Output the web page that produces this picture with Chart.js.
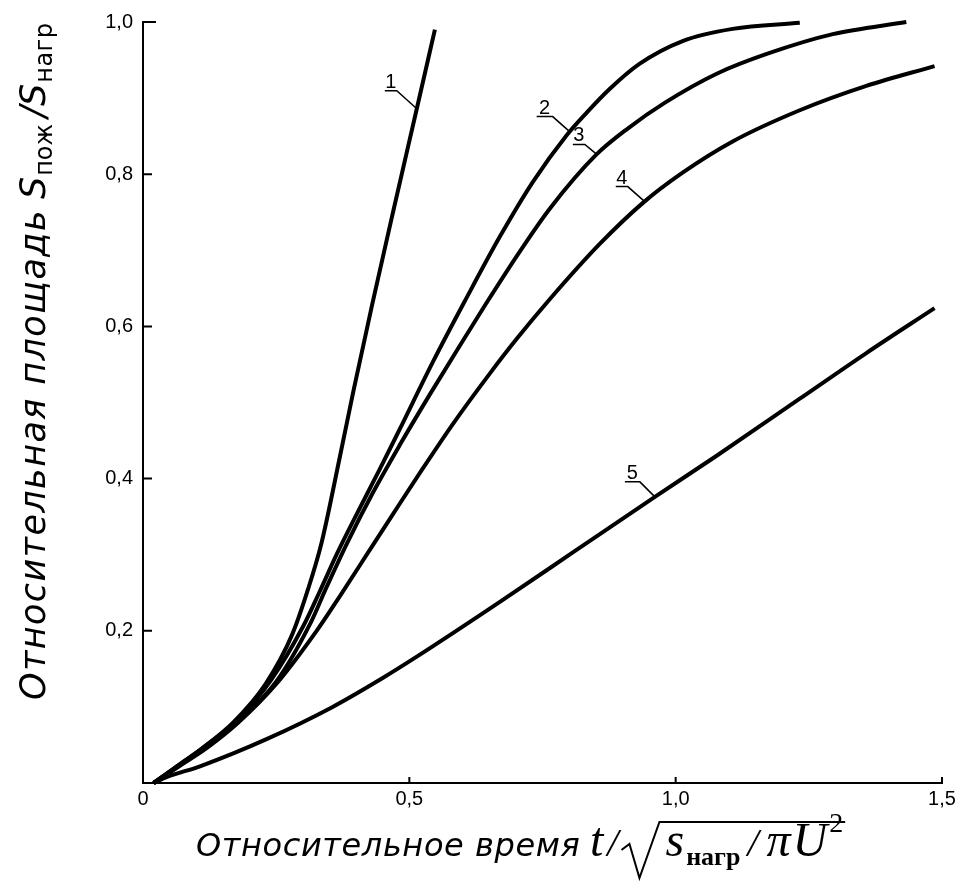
<!DOCTYPE html>
<html>
<head>
<meta charset="utf-8">
<script src="https://cdn.jsdelivr.net/npm/chart.js@4.4.0/dist/chart.umd.min.js"></script>
<style>
  html, body { margin: 0; padding: 0; background: #fff; }
  #wrap { width: 968px; height: 890px; }
</style>
</head>
<body>
<div id="wrap"><canvas id="chart" width="968" height="890"></canvas></div>
<script>
// axis ticks
const xTicks = [0, 0.5, 1.0, 1.5];
const yTicks = [0, 0.2, 0.4, 0.6, 0.8, 1.0];

// curves, [x, y]
const curve1 = [[0.02,0],[0.06,0.02],[0.11,0.045],[0.17,0.08],[0.23,0.13],[0.28,0.195],[0.31,0.255],
  [0.335,0.315],[0.37,0.43],[0.395,0.515],[0.43,0.628],[0.47,0.752],[0.514,0.886],[0.548,0.99]];
const curve2 = [[0.02,0],[0.07,0.025],[0.12,0.05],[0.18,0.085],[0.24,0.135],[0.30,0.205],[0.332,0.252],
  [0.364,0.301],[0.401,0.353],[0.445,0.413],[0.482,0.465],[0.544,0.553],[0.604,0.633],[0.67,0.718],
  [0.732,0.79],[0.795,0.851],[0.833,0.881],[0.876,0.912],[0.932,0.945],[1.013,0.975],[1.107,0.991],[1.233,0.999]];
const curve3 = [[0.02,0],[0.07,0.024],[0.12,0.048],[0.18,0.082],[0.25,0.133],[0.313,0.208],[0.345,0.258],
  [0.383,0.315],[0.432,0.382],[0.482,0.444],[0.538,0.51],[0.595,0.575],[0.645,0.631],[0.707,0.698],
  [0.764,0.755],[0.85,0.825],[0.91,0.86],[0.98,0.894],[1.077,0.932],[1.171,0.958],[1.295,0.984],[1.433,1.0]];
const curve4 = [[0.02,0],[0.07,0.023],[0.12,0.046],[0.18,0.08],[0.25,0.13],[0.326,0.2],[0.37,0.246],
  [0.42,0.3],[0.469,0.353],[0.525,0.413],[0.582,0.472],[0.651,0.538],[0.702,0.584],[0.764,0.636],
  [0.857,0.708],[0.938,0.762],[1.013,0.802],[1.107,0.843],[1.233,0.884],[1.358,0.916],[1.486,0.942]];
const curve5 = [[0.02,0],[0.045,0.008],[0.107,0.022],[0.233,0.058],[0.356,0.1],[0.45,0.138],[0.514,0.166],
  [0.67,0.238],[0.807,0.303],[0.961,0.376],[1.077,0.43],[1.233,0.505],[1.358,0.565],[1.486,0.624]];

// curve numbers and where their leader lines touch the curve
const curveNames = ['1', '2', '3', '4', '5'];
const labelPoints = [[0.514,0.886],[0.801,0.856],[0.852,0.826],[0.942,0.764],[0.961,0.376]];

const sans = '"Liberation Sans", Arial, sans-serif';
const wide = '"DejaVu Sans", Verdana, sans-serif';
const serif = '"Liberation Serif", "Times New Roman", serif';

function toPoints(arr) {
  return arr.map(p => ({ x: p[0], y: p[1] }));
}

function commaNum(v) {
  return v === 0 ? '0' : v.toFixed(1).replace('.', ',');
}

const decorations = {
  id: 'decorations',
  afterDraw(chart) {
    const ctx = chart.ctx;
    const xs = chart.scales.x, ys = chart.scales.y;
    const left = chart.chartArea.left, bottom = chart.chartArea.bottom;
    ctx.save();
    ctx.strokeStyle = '#000';
    ctx.fillStyle = '#000';

    // ticks point into the plot
    ctx.lineWidth = 2;
    ctx.beginPath();
    yTicks.forEach(v => {
      if (v === 0) return;
      const py = ys.getPixelForValue(v);
      ctx.moveTo(left, py);
      ctx.lineTo(left + (v === 1 ? 13 : 9), py);
    });
    xTicks.forEach(v => {
      if (v === 0) return;
      const px = xs.getPixelForValue(v);
      ctx.moveTo(px, bottom);
      ctx.lineTo(px, bottom - 6);
    });
    ctx.stroke();

    // curve numbers with leaders (leader offset dx, dy, underline length)
    const leader = [[-20, -18, 12], [-17, -15, 16], [-12, -10, 12], [-17, -15, 12], [-15, -15, 15]];
    ctx.lineWidth = 1.5;
    ctx.font = '20px ' + sans;
    ctx.textAlign = 'center';
    ctx.textBaseline = 'alphabetic';
    curveNames.forEach((name, i) => {
      const px = xs.getPixelForValue(labelPoints[i][0]);
      const py = ys.getPixelForValue(labelPoints[i][1]);
      const [dx, dy, len] = leader[i];
      const ux = px + dx, uy = py + dy;
      ctx.beginPath();
      ctx.moveTo(px, py);
      ctx.lineTo(ux, uy);
      ctx.lineTo(ux - len, uy);
      ctx.stroke();
      ctx.fillText(name, ux - len / 2, uy - 3);
    });

    // x title
    ctx.textAlign = 'left';
    const by = 856;
    ctx.font = 'oblique 32px ' + wide;
    ctx.letterSpacing = '0.6px';
    ctx.fillText('Относительное время', 196, by);
    ctx.letterSpacing = '0px';
    let cx = 590;
    ctx.font = 'italic 48px ' + serif;
    ctx.fillText('t', cx, by);
    cx += ctx.measureText('t').width + 4;
    ctx.font = 'italic 40px ' + serif;
    ctx.fillText('/', cx, by);
    cx += ctx.measureText('/').width + 5;
    const rootX = cx;
    cx += 42;
    ctx.font = 'italic 48px ' + serif;
    ctx.fillText('s', cx, by);
    cx += ctx.measureText('s').width + 2;
    ctx.font = 'bold 26px ' + serif;
    ctx.fillText('нагр', cx, by + 9);
    cx += ctx.measureText('нагр').width + 7;
    ctx.font = 'italic 40px ' + serif;
    ctx.fillText('/', cx, by);
    cx += ctx.measureText('/').width + 8;
    ctx.font = 'italic 48px ' + serif;
    ctx.fillText('\u03c0', cx, by);
    cx += ctx.measureText('\u03c0').width + 2;
    ctx.fillText('U', cx, by);
    cx += ctx.measureText('U').width + 2;
    ctx.font = '28px ' + serif;
    ctx.fillText('2', cx, by - 24);
    cx += ctx.measureText('2').width + 2;
    ctx.lineWidth = 2;
    ctx.beginPath();
    ctx.moveTo(rootX - 2, by - 6);
    ctx.lineTo(rootX + 6, by - 12);
    ctx.lineTo(rootX + 16, by + 22);
    ctx.lineTo(rootX + 36, by - 34);
    ctx.lineTo(cx, by - 34);
    ctx.stroke();

    // y title
    ctx.translate(45, 700);
    ctx.rotate(-Math.PI / 2);
    let c = 0;
    ctx.font = 'oblique 35px ' + wide;
    ctx.letterSpacing = '1.4px';
    ctx.fillText('Относительная площадь', c, 0);
    c += ctx.measureText('Относительная площадь').width + 10;
    ctx.letterSpacing = '0px';
    ctx.fillText('S', c, 0);
    c += ctx.measureText('S').width + 1;
    ctx.font = '24px ' + wide;
    ctx.fillText('пож', c, 7);
    c += ctx.measureText('пож').width + 6;
    ctx.font = 'oblique 35px ' + wide;
    ctx.fillText('/S', c, 0);
    c += ctx.measureText('/S').width + 1;
    ctx.font = '24px ' + wide;
    ctx.letterSpacing = '0.5px';
    ctx.fillText('нагр', c, 7);
    ctx.restore();
  }
};

const lineStyle = {
  showLine: true,
  borderColor: '#000',
  borderWidth: 4,
  pointRadius: 0,
  fill: false,
  cubicInterpolationMode: 'monotone',
  clip: false
};

const ctx = document.getElementById('chart');
new Chart(ctx, {
  type: 'scatter',
  data: {
    datasets: [curve1, curve2, curve3, curve4, curve5].map((c, i) =>
      Object.assign({ label: curveNames[i], data: toPoints(c) }, lineStyle))
  },
  options: {
    responsive: false,
    animation: false,
    devicePixelRatio: 1,
    layout: { padding: { top: 18, right: 26, left: 0, bottom: 0 } },
    plugins: {
      legend: { display: false },
      tooltip: { enabled: false }
    },
    scales: {
      x: {
        type: 'linear',
        min: 0,
        max: 1.5,
        afterFit: s => { s.height = 107; },
        afterBuildTicks: s => { s.ticks = xTicks.map(v => ({ value: v })); },
        ticks: {
          color: '#000',
          padding: 4,
          maxRotation: 0,
          font: { family: sans, size: 20 },
          callback: v => commaNum(v)
        },
        grid: { drawOnChartArea: false, drawTicks: false },
        border: { display: true, color: '#000', width: 2 }
      },
      y: {
        type: 'linear',
        min: 0,
        max: 1.0,
        afterFit: s => { s.width = 143; },
        afterBuildTicks: s => { s.ticks = yTicks.map(v => ({ value: v })); },
        ticks: {
          color: '#000',
          padding: 10,
          font: { family: sans, size: 20 },
          callback: v => (v === 0 ? '' : commaNum(v))
        },
        grid: { drawOnChartArea: false, drawTicks: false },
        border: { display: true, color: '#000', width: 2 }
      }
    }
  },
  plugins: [decorations]
});
</script>
</body>
</html>
